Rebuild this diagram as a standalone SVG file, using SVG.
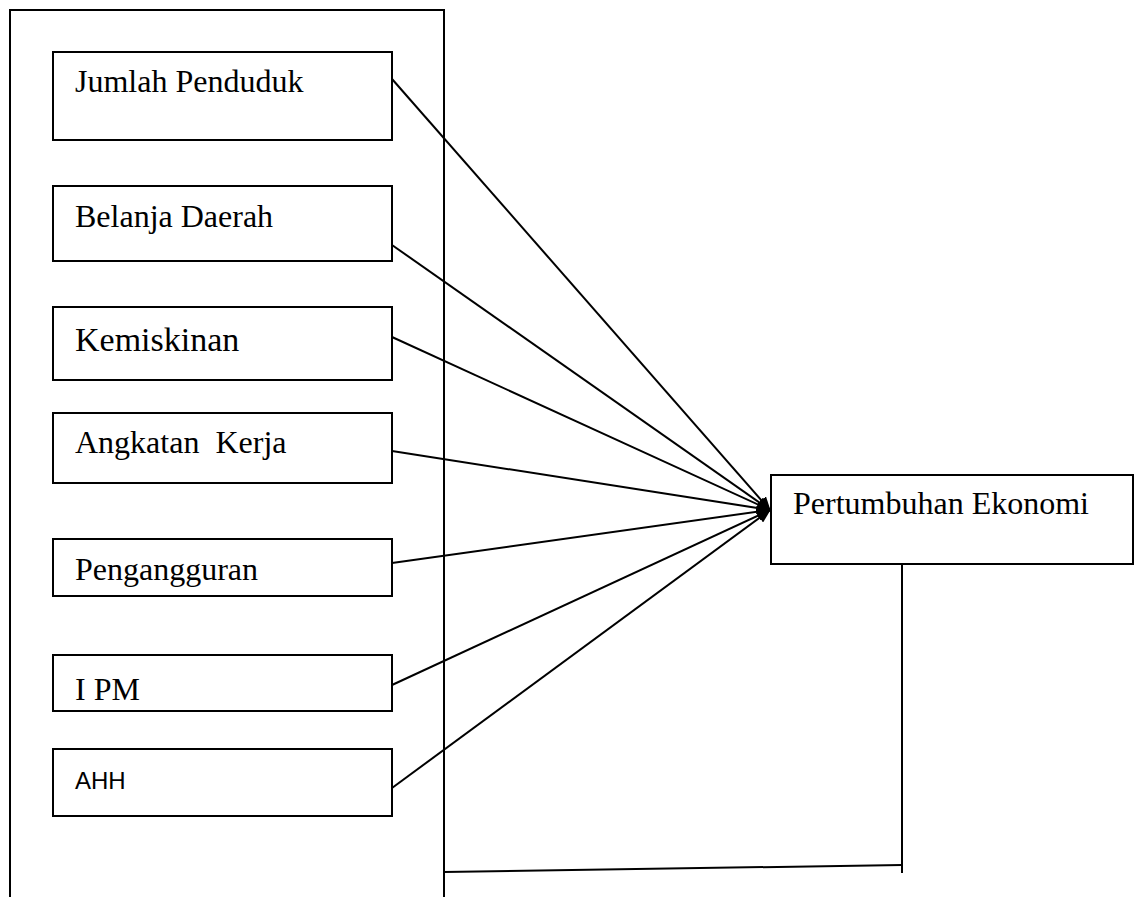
<svg xmlns="http://www.w3.org/2000/svg" width="1136" height="897" viewBox="0 0 1136 897">
<style>
.box{fill:#fff;stroke:#000;stroke-width:2}
.t{font-family:"Liberation Serif","Times New Roman",serif;font-size:32px;fill:#000}
.s{font-family:"Liberation Sans",Arial,sans-serif;font-size:24px;fill:#000}
.c{stroke:#000;stroke-width:2;fill:none}
</style>
<defs>
<marker id="ah" markerWidth="14" markerHeight="12" refX="13" refY="6" orient="auto" markerUnits="userSpaceOnUse">
<path d="M0,0 L14,6 L0,12 Z" fill="#000"/>
</marker>
</defs>
<rect width="1136" height="897" fill="#fff"/>
<g id="frame">
<path class="c" d="M10,897 V10 H444 V897"/>
</g>
<g id="n1"><rect class="box" x="53" y="52" width="339" height="88"/><text class="t" x="75" y="92">Jumlah Penduduk</text></g>
<g id="n2"><rect class="box" x="53" y="186" width="339" height="75"/><text class="t" x="75" y="227">Belanja Daerah</text></g>
<g id="n3"><rect class="box" x="53" y="307" width="339" height="73"/><text class="t" x="75" y="351" style="font-size:34px">Kemiskinan</text></g>
<g id="n4"><rect class="box" x="53" y="413" width="339" height="70"/><text class="t" x="75" y="453" xml:space="preserve">Angkatan  Kerja</text></g>
<g id="n5"><rect class="box" x="53" y="539" width="339" height="57"/><text class="t" x="75" y="580">Pengangguran</text></g>
<g id="n6"><rect class="box" x="53" y="655" width="339" height="56"/><text class="t" x="75" y="700">I PM</text></g>
<g id="n7"><rect class="box" x="53" y="749" width="339" height="67"/><text class="s" x="75" y="789">AHH</text></g>
<g id="n8"><rect class="box" x="771" y="475" width="362" height="89"/><text class="t" x="793" y="514">Pertumbuhan Ekonomi</text></g>
<g id="connectors">
<line class="c" x1="392" y1="79" x2="770" y2="510" marker-end="url(#ah)"/>
<line class="c" x1="392" y1="245" x2="770" y2="510" marker-end="url(#ah)"/>
<line class="c" x1="392" y1="337" x2="770" y2="510" marker-end="url(#ah)"/>
<line class="c" x1="392" y1="451" x2="770" y2="510" marker-end="url(#ah)"/>
<line class="c" x1="392" y1="563" x2="770" y2="510" marker-end="url(#ah)"/>
<line class="c" x1="392" y1="685" x2="770" y2="510" marker-end="url(#ah)"/>
<line class="c" x1="392" y1="788" x2="770" y2="510" marker-end="url(#ah)"/>
<path class="c" d="M902,564 V873"/>
<path class="c" d="M444,872 L902,865"/>
</g>
</svg>
